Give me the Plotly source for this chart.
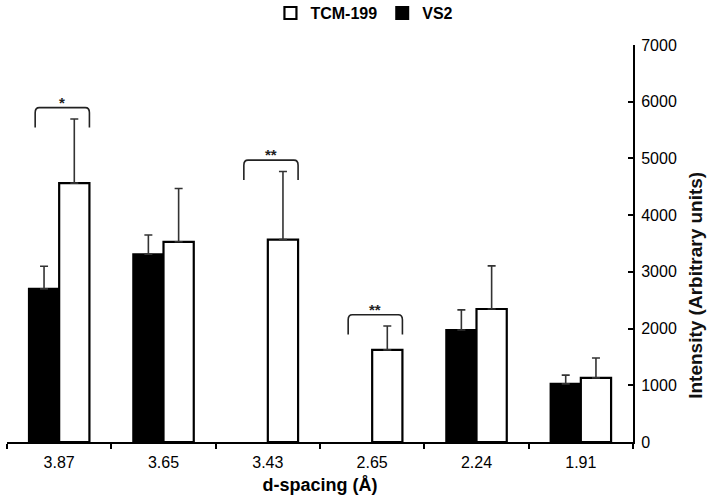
import plotly.graph_objects as go

categories = ["3.87", "3.65", "3.43", "2.65", "2.24", "1.91"]
vs2_values = [2700, 3310, None, None, 1975, 1025]
vs2_errors = [400, 340, None, None, 355, 155]
tcm_values = [4565, 3530, 3570, 1625, 2345, 1130]
tcm_errors = [1130, 940, 1200, 420, 760, 350]
significance = ["*", "", "**", "**", "", ""]
y_ticks = [0, 1000, 2000, 3000, 4000, 5000, 6000, 7000]

FONT = "Liberation Sans, Arial, sans-serif"

fig = go.Figure()
fig.add_trace(go.Bar(
    name="<b>VS2</b>", x=categories, y=vs2_values,
    marker=dict(color="black", line=dict(color="black", width=2)),
    error_y=dict(type="data", symmetric=False, array=vs2_errors,
                 arrayminus=[0] * len(categories), color="#333333",
                 thickness=1.6, width=4),
))
fig.add_trace(go.Bar(
    name="<b>TCM-199</b>", x=categories, y=tcm_values,
    marker=dict(color="white", line=dict(color="black", width=2.2)),
    error_y=dict(type="data", symmetric=False, array=tcm_errors,
                 arrayminus=[0] * len(categories), color="#333333",
                 thickness=1.6, width=4),
))

# significance brackets derived from data
for i, s in enumerate(significance):
    if not s:
        continue
    top = tcm_values[i] + tcm_errors[i] + 200
    low = top - 350
    x0, x1 = i - 0.23, i + 0.29
    r = 90
    dx = 0.04
    path = (f"M {x0},{low} L {x0},{top - r} Q {x0},{top} {x0 + dx},{top} "
            f"L {x1 - dx},{top} Q {x1},{top} {x1},{top - r} L {x1},{low}")
    fig.add_shape(type="path", path=path, xref="x", yref="y",
                  line=dict(color="#222222", width=1.6))
    fig.add_annotation(x=(x0 + x1) / 2, y=top, text=f"<b>{s}</b>",
                       showarrow=False, yanchor="bottom", yshift=-5,
                       font=dict(family=FONT, size=15, color="#222222"))

# y-axis title (placed as in the reference, right of the tick labels)
fig.add_annotation(xref="paper", yref="paper", x=1.10, y=0.395,
                   text="<b>Intensity (Arbitrary units)</b>", textangle=-90,
                   showarrow=False, xanchor="center", yanchor="middle",
                   font=dict(family=FONT, size=19, color="#111111"))

fig.update_layout(
    width=716, height=504,
    margin=dict(l=7, r=83, t=45, b=62, autoexpand=False),
    paper_bgcolor="white", plot_bgcolor="white",
    barmode="group", bargap=0.42, bargroupgap=0,
    font=dict(family=FONT, size=16, color="black"),
    showlegend=True,
    legend=dict(orientation="h", x=0.571, xanchor="center", yref="container",
                y=0.974, yanchor="middle", traceorder="reversed",
                font=dict(family=FONT, size=16, color="black"),
                itemwidth=30, tracegroupgap=0),
    xaxis=dict(
        type="category", showline=True, linecolor="black", linewidth=2,
        ticks="outside", tickson="boundaries", ticklen=5, tickwidth=1.5,
        tickcolor="black", showgrid=False, zeroline=False, automargin=False,
        tickfont=dict(family=FONT, size=16), ticklabelstandoff=5,
        title=dict(text="<b>d-spacing (Å)</b>", font=dict(family=FONT, size=18), standoff=8),
    ),
    yaxis=dict(
        side="right", range=[0, 7000], tickvals=y_ticks,
        showline=True, linecolor="black", linewidth=2,
        ticks="inside", ticklen=5, tickwidth=1.5, tickcolor="black",
        showgrid=False, zeroline=False, automargin=False,
        tickfont=dict(family=FONT, size=16), ticklabelstandoff=3,
    ),
)

fig.write_html("out.html", config={"displayModeBar": False},
               post_script="document.body.style.margin='0px';")
